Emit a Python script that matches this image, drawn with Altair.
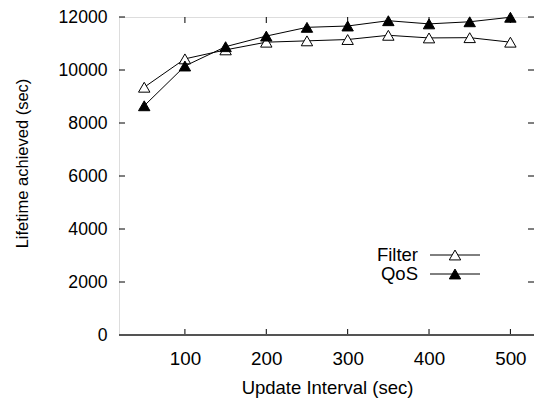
import altair as alt
import pandas as pd

intervals = [50, 100, 150, 200, 250, 300, 350, 400, 450, 500]
filter_vals = [9350, 10420, 10760, 11050, 11100, 11150, 11310, 11210, 11220, 11050]
qos_vals = [8650, 10150, 10880, 11280, 11610, 11660, 11860, 11740, 11820, 11990]
x_ticks = [100, 200, 300, 400, 500]
y_ticks = [0, 2000, 4000, 6000, 8000, 10000, 12000]
series_names = ["Filter", "QoS"]

W, H = 415, 318
FONT = "Liberation Sans"

df = pd.DataFrame({
    "interval": intervals * 2,
    "lifetime": filter_vals + qos_vals,
    "series": [series_names[0]] * len(intervals) + [series_names[1]] * len(intervals),
})
xt = pd.DataFrame({"t": x_ticks})
yt = pd.DataFrame({"t": y_ticks})
leg = pd.DataFrame({"series": series_names})

xs = alt.Scale(domain=[19, 529], nice=False, zero=False)
ys = alt.Scale(domain=[0, 12000], nice=False)
fill_scale = alt.Scale(domain=series_names, range=["white", "black"])

xaxis = alt.Axis(values=x_ticks, ticks=False, domain=False, grid=False, format="d",
                 labelFont=FONT, labelFontSize=18.8, labelColor="black",
                 labelPadding=23, labelBaseline="middle",
                 title="Update Interval (sec)", titleFont=FONT, titleFontSize=18.5,
                 titleFontWeight="normal", titleColor="black",
                 titleX=208, titleY=52, titleBaseline="middle")
yaxis = alt.Axis(values=y_ticks, ticks=False, domain=False, grid=False, format="d",
                 labelFont=FONT, labelFontSize=17.6, labelColor="black",
                 labelPadding=12,
                 title="Lifetime achieved (sec)", titleFont=FONT, titleFontSize=16.5,
                 titleFontWeight="normal", titleColor="black",
                 titleX=-97, titleY=146, titleAngle=270,
                 titleBaseline="middle", titleAlign="center")

base = alt.Chart(df)

lines = base.mark_line(color="black", strokeWidth=1).encode(
    x=alt.X("interval:Q", scale=xs, axis=xaxis),
    y=alt.Y("lifetime:Q", scale=ys, axis=yaxis),
    detail="series:N",
)
pts = base.mark_point(shape="triangle-up", size=130, strokeWidth=1, opacity=1).encode(
    x=alt.X("interval:Q", scale=xs),
    y=alt.Y("lifetime:Q", scale=ys),
    fill=alt.Fill("series:N", scale=fill_scale, legend=None),
    stroke=alt.value("black"),
)

tick_b = alt.Chart(xt).mark_rule(color="black").encode(
    x=alt.X("t:Q", scale=xs), y=alt.value(H), y2=alt.value(H - 6))
tick_t = alt.Chart(xt).mark_rule(color="black").encode(
    x=alt.X("t:Q", scale=xs), y=alt.value(0), y2=alt.value(6))
tick_l = alt.Chart(yt).mark_rule(color="black").encode(
    y=alt.Y("t:Q", scale=ys), x=alt.value(0), x2=alt.value(6))
tick_r = alt.Chart(yt).mark_rule(color="black").encode(
    y=alt.Y("t:Q", scale=ys), x=alt.value(W), x2=alt.value(W - 6))

bottom_border = alt.Chart(xt).mark_rule(color="#555555", strokeWidth=1.3).encode(
    x=alt.value(0), x2=alt.value(W), y=alt.value(H))

legend_layers = []
for name, ypix in zip(series_names, [238, 257]):
    src = alt.Chart(leg).transform_filter(alt.datum.series == name)
    legend_layers.append(src.mark_rule(color="black", strokeWidth=1).encode(
        x=alt.value(311), x2=alt.value(361), y=alt.value(ypix)))
    legend_layers.append(src.mark_point(shape="triangle-up", size=130, strokeWidth=1, opacity=1).encode(
        x=alt.value(336), y=alt.value(ypix),
        fill=alt.Fill("series:N", scale=fill_scale, legend=None),
        stroke=alt.value("black")))
    legend_layers.append(src.mark_text(align="right", baseline="middle", font=FONT,
                                       fontSize=18.5, color="black").encode(
        x=alt.value(299), y=alt.value(ypix), text="series:N"))

chart = alt.layer(lines, pts, tick_b, tick_t, tick_l, tick_r, bottom_border, *legend_layers).properties(
    width=W, height=H,
    autosize=alt.AutoSizeParams(type="none"),
    padding={"left": 119, "top": 17, "right": 0, "bottom": 64},
).configure_view(stroke="black", strokeWidth=1).configure(background="white")

chart.save("out.html", embed_options={"renderer": "svg", "actions": False})
